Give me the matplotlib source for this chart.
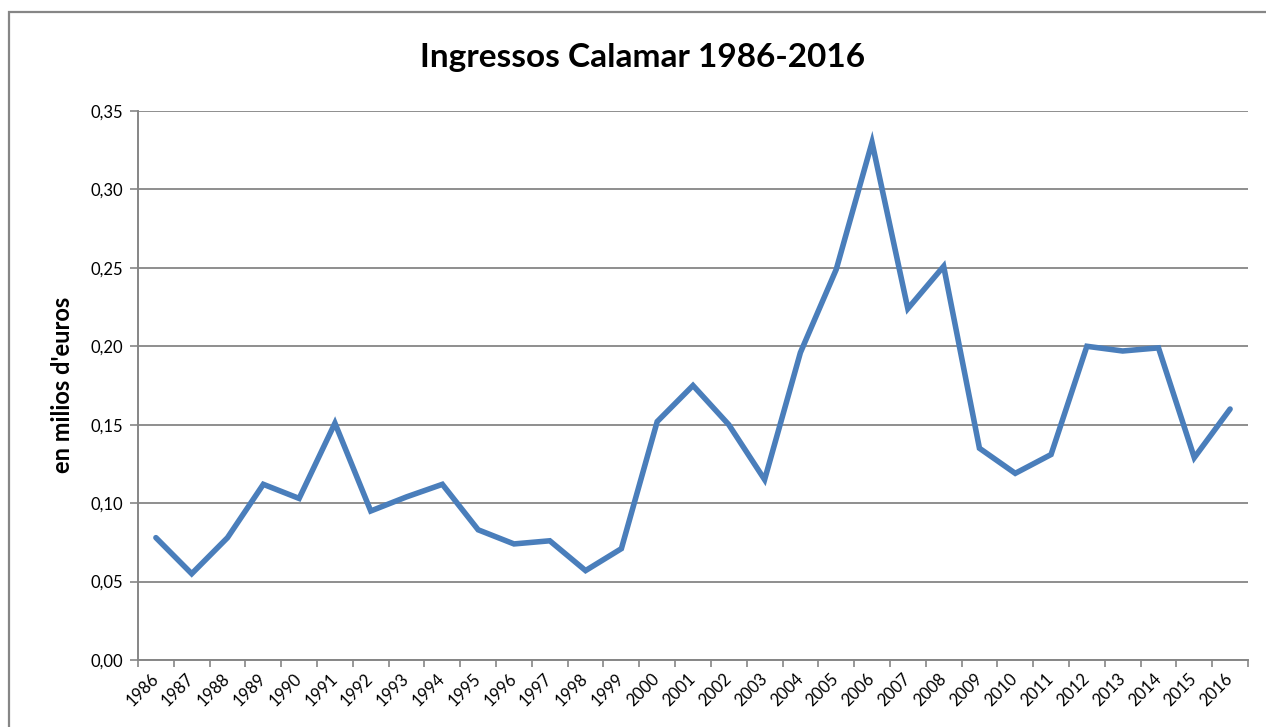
import matplotlib.pyplot as plt
from matplotlib.patches import Rectangle
from matplotlib.ticker import FixedLocator, FuncFormatter

years = list(range(1986, 2017))
ingressos = [0.078, 0.055, 0.078, 0.112, 0.103, 0.151, 0.095, 0.104, 0.112, 0.083,
             0.074, 0.076, 0.057, 0.071, 0.152, 0.175, 0.150, 0.115, 0.196, 0.249,
             0.330, 0.224, 0.251, 0.135, 0.119, 0.131, 0.200, 0.197, 0.199, 0.129,
             0.160]

title = "Ingressos Calamar 1986-2016"
ylabel = "en milios d'euros"

plt.rcParams['font.family'] = ['Lato', 'DejaVu Sans']
grey = '#868686'

fig = plt.figure(figsize=(12.66, 7.27), dpi=100)
ax = fig.add_axes([138 / 1266, 1 - 660 / 727, 1110 / 1266, 549 / 727])

# outer chart border (runs off the right and bottom of the image)
fig.patches.append(Rectangle((8.5 / 1266, -0.1), 1.2, 1.1 - 12.5 / 727,
                             transform=fig.transFigure, fill=False,
                             edgecolor=grey, linewidth=1.6))

xs = range(len(years))
ax.plot(xs, ingressos, color='#4A7EBB', linewidth=4.0,
        solid_joinstyle='miter', solid_capstyle='round')

ax.set_xlim(-0.5, len(years) - 0.5)
ax.set_ylim(0, 0.35)
ax.set_yticks([i * 0.05 for i in range(8)])
ax.yaxis.set_major_formatter(FuncFormatter(lambda v, p: f"{v:.2f}".replace('.', ',')))
ax.grid(axis='y', color=grey, linewidth=1.3)
ax.set_axisbelow(True)

ax.set_xticks(list(xs))
ax.set_xticklabels([str(y) for y in years], rotation=45, ha='right',
                   va='center', rotation_mode='anchor')
ax.xaxis.set_minor_locator(FixedLocator([i - 0.5 for i in range(len(years) + 1)]))
ax.tick_params(axis='x', which='major', length=0, pad=12, labelsize=12)
ax.tick_params(axis='x', which='minor', length=5, color=grey, width=1.2)
ax.tick_params(axis='y', length=6, color=grey, width=1.2, labelsize=12, pad=5)

for s in ['top', 'right']:
    ax.spines[s].set_visible(False)
for s in ['left', 'bottom']:
    ax.spines[s].set_color(grey)
    ax.spines[s].set_linewidth(1.4)

fig.text(643 / 1266, 1 - 57 / 727, title, ha='center', va='center',
         fontsize=24, fontweight='bold')
fig.text(63 / 1266, 1 - 385 / 727, ylabel, ha='center', va='center',
         rotation=90, fontsize=17, fontweight='bold')

fig.savefig('out.png', dpi=100)
